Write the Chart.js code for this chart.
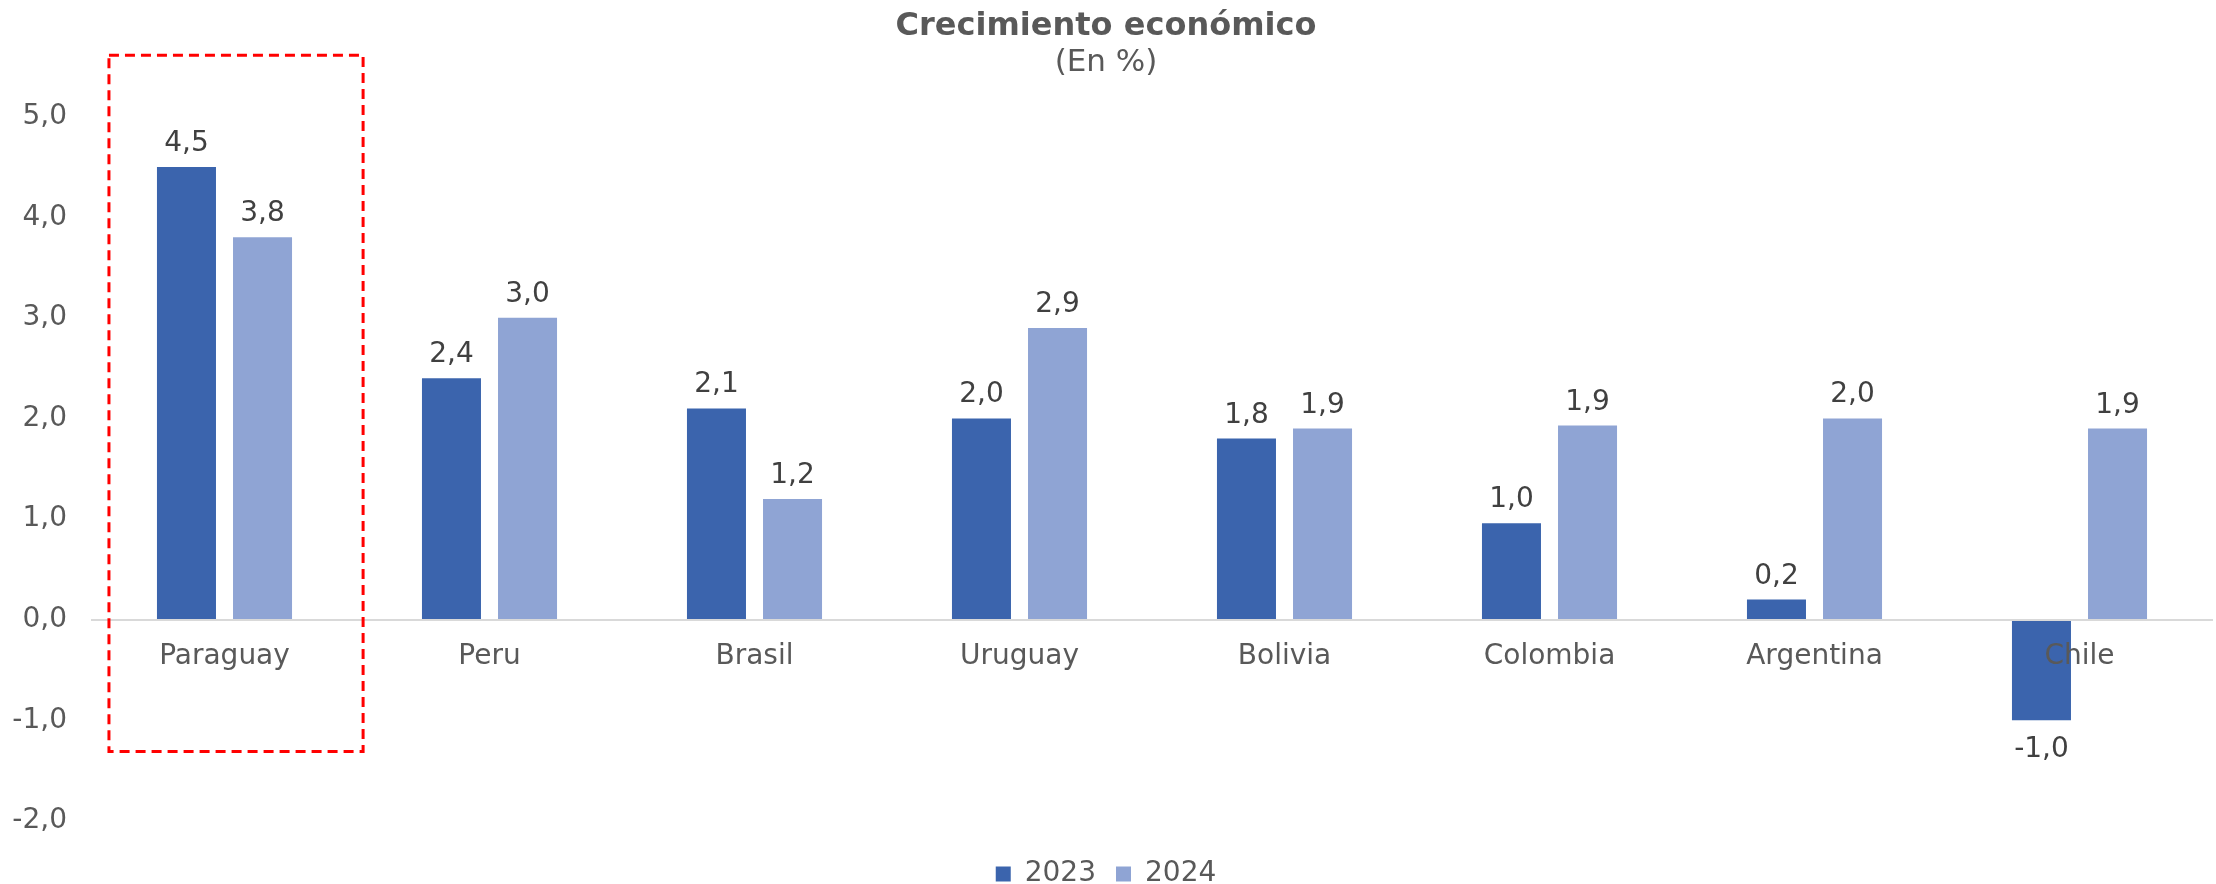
<!DOCTYPE html>
<html><head><meta charset="utf-8">
<script src="https://cdn.jsdelivr.net/npm/chart.js@4"></script>
<style>html,body{margin:0;padding:0;background:#fff;}</style>
</head><body>
<canvas id="c" width="2216" height="884"></canvas>
<script>
const categories = ['Paraguay', 'Peru', 'Brasil', 'Uruguay', 'Bolivia', 'Colombia', 'Argentina', 'Chile'];
const seriesNames = ['2023', '2024'];
const values2023 = [4.5, 2.4, 2.1, 2.0, 1.8, 0.96, 0.2, -1.0];
const values2024 = [3.8, 3.0, 1.2, 2.9, 1.9, 1.93, 2.0, 1.9];
const yTicks = [-2, -1, 0, 1, 2, 3, 4, 5];
const highlight = {category: 0, from: -0.436, to: 0.523, top: 5.61, bottom: -1.31};

const FONT = '"DejaVu Sans", sans-serif';
const fmt = v => Number(v).toFixed(1).replace('.', ',');

const valueLabels = {
  id: 'valueLabels',
  afterDatasetsDraw(chart) {
    const ctx = chart.ctx;
    ctx.save();
    ctx.font = '28px ' + FONT;
    ctx.fillStyle = '#404040';
    ctx.textAlign = 'center';
    ctx.textBaseline = 'alphabetic';
    chart.data.datasets.forEach((ds, i) => {
      const meta = chart.getDatasetMeta(i);
      meta.data.forEach((el, j) => {
        const v = ds.data[j];
        const y = v >= 0 ? el.y - 16 : el.y + 37;
        ctx.fillText(fmt(v), el.x, y);
      });
    });
    ctx.restore();
  }
};

const highlightBox = {
  id: 'highlightBox',
  afterDraw(chart) {
    const ctx = chart.ctx, xs = chart.scales.x, ys = chart.scales.y;
    const c0 = xs.getPixelForValue(highlight.category);
    const cw = xs.getPixelForValue(1) - xs.getPixelForValue(0);
    const yt = ys.getPixelForValue(highlight.top);
    const yb = ys.getPixelForValue(highlight.bottom);
    ctx.save();
    ctx.strokeStyle = '#FF0000';
    ctx.lineWidth = 3;
    ctx.setLineDash([10, 6]);
    ctx.strokeRect(c0 + highlight.from * cw, yt, (highlight.to - highlight.from) * cw, yb - yt);
    ctx.restore();
  }
};

new Chart(document.getElementById('c'), {
  type: 'bar',
  data: {
    labels: categories,
    datasets: [
      {label: seriesNames[0], data: values2023, backgroundColor: '#3B64AD', categoryPercentage: 0.574, barPercentage: 0.776},
      {label: seriesNames[1], data: values2024, backgroundColor: '#8FA4D4', categoryPercentage: 0.574, barPercentage: 0.776}
    ]
  },
  options: {
    responsive: false,
    animation: false,
    devicePixelRatio: 1,
    layout: {padding: {left: 0, right: 4, top: 0, bottom: -14}},
    plugins: {
      title: {display: true, text: 'Crecimiento económico', color: '#595959',
        font: {family: FONT, size: 32, weight: 'bold', lineHeight: 1.2}, padding: {top: 7, bottom: 0}},
      subtitle: {display: true, text: '(En %)', color: '#595959',
        font: {family: FONT, size: 31, lineHeight: 1.2}, padding: {top: -1, bottom: 35}},
      legend: {position: 'bottom',
        labels: {font: {family: FONT, size: 28}, color: '#595959', boxWidth: 15, boxHeight: 15, padding: 20},
        title: {display: true, text: '', font: {size: 10, lineHeight: 1}, padding: {top: 9, bottom: 0}}},
      tooltip: {enabled: false}
    },
    scales: {
      x: {
        position: {y: 0},
        grid: {display: false, drawTicks: false},
        border: {display: true, color: '#D9D9D9', width: 2, z: 1},
        ticks: {font: {family: FONT, size: 28}, color: '#595959', padding: 20, z: 1}
      },
      y: {
        min: -2, max: 5,
        afterBuildTicks: s => { s.ticks = yTicks.map(v => ({value: v})); },
        afterFit: s => { s.width = 92; },
        grid: {display: false, drawTicks: false},
        border: {display: false},
        ticks: {font: {family: FONT, size: 28}, color: '#595959', padding: 25, callback: v => fmt(v)}
      }
    }
  },
  plugins: [valueLabels, highlightBox]
});
</script>
</body></html>
